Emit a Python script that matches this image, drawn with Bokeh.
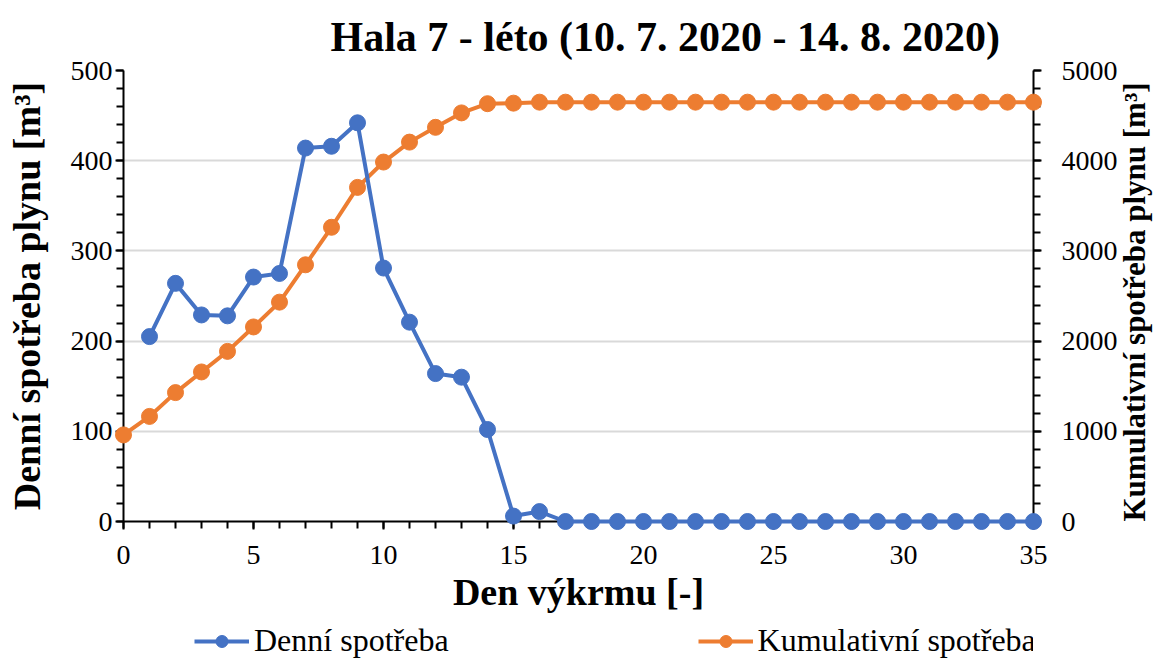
import math
from bokeh.plotting import figure
from bokeh.layouts import column
from bokeh.models import (Range1d, LinearAxis, SingleIntervalTicker, Legend, LegendItem, Title)
from bokeh.embed import file_html
from bokeh.resources import INLINE

# ---- data ----
daily_days = [1, 2, 3, 4, 5, 6, 7, 8, 9, 10, 11, 12, 13, 14, 15, 16, 17, 18,
              19, 20, 21, 22, 23, 24, 25, 26, 27, 28, 29, 30, 31, 32, 33, 34, 35]
daily_values = [205, 264, 229, 228, 271, 275, 414, 416, 442, 281, 221, 164, 160, 102, 6, 11, 0, 0,
                0, 0, 0, 0, 0, 0, 0, 0, 0, 0, 0, 0, 0, 0, 0, 0, 0]
cum_days = [0, 1, 2, 3, 4, 5, 6, 7, 8, 9, 10, 11, 12, 13, 14, 15, 16, 17,
            18, 19, 20, 21, 22, 23, 24, 25, 26, 27, 28, 29, 30, 31, 32, 33, 34, 35]
cum_values = [960, 1165, 1429, 1658, 1886, 2157, 2432, 2846, 3262, 3704, 3985, 4206, 4370, 4530, 4632, 4638, 4649, 4649,
              4649, 4649, 4649, 4649, 4649, 4649, 4649, 4649, 4649, 4649, 4649, 4649, 4649, 4649, 4649, 4649, 4649, 4649]

title_text = "Hala 7 - léto (10. 7. 2020 - 14. 8. 2020)"
x_label = "Den výkrmu [-]"
y_left_label = "Denní spotřeba plynu [m³]"
y_right_label = "Kumulativní spotřeba plynu [m³]"
series_names = ["Denní spotřeba", "Kumulativní spotřeba"]

BLUE = "#4472C4"
ORANGE = "#ED7D31"
FONT = "Liberation Serif"

p = figure(width=1172, height=626, output_backend="svg", toolbar_location=None,
           x_range=Range1d(0, 35), y_range=Range1d(0, 500),
           min_border_left=123, min_border_right=136, min_border_top=70, min_border_bottom=105)
p.outline_line_color = None
p.background_fill_color = "white"

p.extra_y_ranges = {"cum": Range1d(0, 5000)}

# title
t = Title(text=title_text, align="left", offset=207, text_font=FONT, text_font_size="42px",
          text_font_style="bold", text_color="black", standoff=21)
p.add_layout(t, "above")

def style_axis(ax):
    ax.axis_line_color = "black"
    ax.axis_line_width = 2
    ax.major_tick_line_color = "black"
    ax.major_tick_line_width = 2
    ax.minor_tick_line_color = "black"
    ax.minor_tick_line_width = 2
    ax.major_tick_in = 0
    ax.major_tick_out = 8
    ax.minor_tick_in = 0
    ax.minor_tick_out = 7
    ax.major_label_text_font = FONT
    ax.major_label_text_font_size = "28px"
    ax.major_label_text_color = "black"
    ax.axis_label_text_font = FONT
    ax.axis_label_text_font_size = "38px"
    ax.axis_label_text_font_style = "bold"
    ax.axis_label_text_color = "black"

xa = p.xaxis[0]
xa.ticker = SingleIntervalTicker(interval=5, num_minor_ticks=5)
xa.axis_label = x_label
style_axis(xa)
xa.major_label_standoff = 16
xa.axis_label_standoff = 4

ya = p.yaxis[0]
ya.ticker = SingleIntervalTicker(interval=100, num_minor_ticks=5)
ya.axis_label = y_left_label
style_axis(ya)
ya.major_label_standoff = 3
ya.axis_label_standoff = 20

yr = LinearAxis(y_range_name="cum", ticker=SingleIntervalTicker(interval=1000, num_minor_ticks=5),
                axis_label=y_right_label)
style_axis(yr)
yr.axis_label_text_font_size = "31px"
yr.major_label_standoff = 20
yr.axis_label_standoff = 14
yr.axis_label_orientation = math.pi / 2
try:
    yr.axis_label_align = "start"
except Exception:
    yr.axis_label_align = "left"
p.add_layout(yr, "right")

p.xgrid.grid_line_color = None
p.ygrid.grid_line_color = "#d9d9d9"
p.ygrid.grid_line_width = 2

# series
p.line(cum_days, cum_values, y_range_name="cum", line_color=ORANGE, line_width=4, level="overlay")
p.scatter(cum_days, cum_values, y_range_name="cum", size=16, fill_color=ORANGE, line_color=ORANGE, level="overlay")
p.line(daily_days, daily_values, line_color=BLUE, line_width=4, level="overlay")
p.scatter(daily_days, daily_values, size=16, fill_color=BLUE, line_color=BLUE, level="overlay")

# legend strip below the chart
q = figure(width=1172, height=33, output_backend="svg", toolbar_location=None,
           x_axis_type=None, y_axis_type=None, x_range=Range1d(100, 101), y_range=Range1d(100, 101),
           min_border_left=0, min_border_right=0, min_border_top=0, min_border_bottom=0)
q.outline_line_color = None
ql1 = q.line(daily_days, daily_values, line_color=BLUE, line_width=4)
qc1 = q.scatter(daily_days, daily_values, size=16, fill_color=BLUE, line_color=BLUE)
ql2 = q.line(cum_days, cum_values, line_color=ORANGE, line_width=4)
qc2 = q.scatter(cum_days, cum_values, size=16, fill_color=ORANGE, line_color=ORANGE)

legend = Legend(items=[LegendItem(label=series_names[0], renderers=[ql1, qc1]),
                       LegendItem(label=series_names[1], renderers=[ql2, qc2])],
                location=(71, 0), orientation="horizontal", spacing=249,
                label_text_font=FONT, label_text_font_size="32px", label_text_color="black",
                glyph_width=55, glyph_height=30, label_standoff=5, padding=0, margin=0,
                border_line_color=None, background_fill_alpha=0)
q.add_layout(legend, "center")

layout = column(p, q, spacing=0)
open("out.html", "w").write(file_html(layout, INLINE))
